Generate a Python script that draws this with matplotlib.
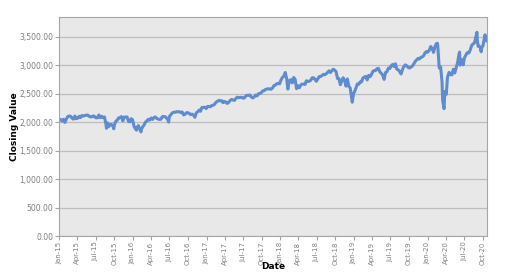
import matplotlib
matplotlib.use("Agg")
import matplotlib.pyplot as plt
import matplotlib.dates as mdates
import numpy as np
import pandas as pd

# Approximate closing values (roughly weekly)
dates_2015 = ["2015-01-02", "2015-01-09", "2015-01-16", "2015-01-23", "2015-01-30", "2015-02-06",
              "2015-02-13", "2015-02-20", "2015-02-27", "2015-03-06", "2015-03-13", "2015-03-20",
              "2015-03-27", "2015-04-02", "2015-04-10", "2015-04-17", "2015-04-24", "2015-05-01",
              "2015-05-08", "2015-05-15", "2015-05-22", "2015-05-29", "2015-06-05", "2015-06-12",
              "2015-06-19", "2015-06-26", "2015-07-02", "2015-07-10", "2015-07-17", "2015-07-24",
              "2015-07-31", "2015-08-07", "2015-08-14", "2015-08-21", "2015-08-24", "2015-08-28",
              "2015-09-04", "2015-09-11", "2015-09-18", "2015-09-25", "2015-09-29", "2015-10-02",
              "2015-10-09", "2015-10-16", "2015-10-23", "2015-10-30", "2015-11-06", "2015-11-13",
              "2015-11-20", "2015-11-27", "2015-12-04", "2015-12-11", "2015-12-18", "2015-12-24",
              "2015-12-31"]
values_2015 = [2058, 2044, 2019, 2051, 1995, 2055, 2097, 2110, 2104, 2071, 2053, 2108,
               2061, 2067, 2102, 2081, 2117, 2108, 2116, 2123, 2126, 2107, 2092, 2094,
               2110, 2101, 2077, 2076, 2127, 2079, 2104, 2078, 2092, 1971, 1893, 1989,
               1921, 1961, 1958, 1932, 1884, 1951, 2015, 2033, 2075, 2079, 2099, 2023,
               2089, 2090, 2092, 2012, 2006, 2061, 2044]

dates_2016 = ["2016-01-08", "2016-01-15", "2016-01-20", "2016-01-22", "2016-01-29", "2016-02-05",
              "2016-02-11", "2016-02-12", "2016-02-19", "2016-02-26", "2016-03-04", "2016-03-11",
              "2016-03-18", "2016-03-24", "2016-04-01", "2016-04-08", "2016-04-15", "2016-04-22",
              "2016-04-29", "2016-05-06", "2016-05-13", "2016-05-20", "2016-05-27", "2016-06-03",
              "2016-06-10", "2016-06-17", "2016-06-24", "2016-06-27", "2016-07-01", "2016-07-08",
              "2016-07-15", "2016-07-22", "2016-07-29", "2016-08-05", "2016-08-12", "2016-08-19",
              "2016-08-26", "2016-09-02", "2016-09-09", "2016-09-16", "2016-09-23", "2016-09-30",
              "2016-10-07", "2016-10-14", "2016-10-21", "2016-10-28", "2016-11-04", "2016-11-11",
              "2016-11-18", "2016-11-25", "2016-12-02", "2016-12-09", "2016-12-16", "2016-12-23",
              "2016-12-30"]
values_2016 = [1922, 1880, 1859, 1907, 1940, 1880, 1829, 1865, 1918, 1948, 2000, 2022,
               2050, 2036, 2073, 2048, 2081, 2092, 2065, 2057, 2047, 2052, 2099, 2099,
               2096, 2071, 2037, 2001, 2103, 2130, 2162, 2175, 2174, 2183, 2184, 2184,
               2169, 2180, 2128, 2139, 2165, 2168, 2153, 2133, 2141, 2126, 2085, 2164,
               2182, 2213, 2192, 2259, 2258, 2263, 2239]

dates_2017 = ["2017-01-06", "2017-01-13", "2017-01-20", "2017-01-27", "2017-02-03", "2017-02-10",
              "2017-02-17", "2017-02-24", "2017-03-03", "2017-03-10", "2017-03-17", "2017-03-24",
              "2017-03-31", "2017-04-07", "2017-04-13", "2017-04-21", "2017-04-28", "2017-05-05",
              "2017-05-12", "2017-05-19", "2017-05-26", "2017-06-02", "2017-06-09", "2017-06-16",
              "2017-06-23", "2017-06-30", "2017-07-07", "2017-07-14", "2017-07-21", "2017-07-28",
              "2017-08-04", "2017-08-11", "2017-08-18", "2017-08-25", "2017-09-01", "2017-09-08",
              "2017-09-15", "2017-09-22", "2017-09-29", "2017-10-06", "2017-10-13", "2017-10-20",
              "2017-10-27", "2017-11-03", "2017-11-10", "2017-11-17", "2017-11-24", "2017-12-01",
              "2017-12-08", "2017-12-15", "2017-12-22", "2017-12-29"]
values_2017 = [2277, 2275, 2271, 2295, 2297, 2316, 2351, 2367, 2383, 2373, 2378, 2344,
               2363, 2355, 2329, 2349, 2384, 2399, 2391, 2382, 2416, 2439, 2432, 2433,
               2438, 2423, 2425, 2459, 2473, 2472, 2477, 2441, 2426, 2443, 2477, 2461,
               2500, 2502, 2519, 2549, 2553, 2575, 2581, 2588, 2582, 2579, 2602, 2642,
               2652, 2675, 2684, 2674]

dates_2018 = ["2018-01-05", "2018-01-12", "2018-01-19", "2018-01-26", "2018-02-02", "2018-02-08",
              "2018-02-09", "2018-02-16", "2018-02-23", "2018-03-02", "2018-03-09", "2018-03-16",
              "2018-03-23", "2018-03-29", "2018-04-06", "2018-04-13", "2018-04-20", "2018-04-27",
              "2018-05-04", "2018-05-11", "2018-05-18", "2018-05-25", "2018-06-01", "2018-06-08",
              "2018-06-15", "2018-06-22", "2018-06-29", "2018-07-06", "2018-07-13", "2018-07-20",
              "2018-07-27", "2018-08-03", "2018-08-10", "2018-08-17", "2018-08-24", "2018-08-31",
              "2018-09-07", "2018-09-14", "2018-09-21", "2018-09-28", "2018-10-05", "2018-10-12",
              "2018-10-19", "2018-10-26", "2018-11-02", "2018-11-09", "2018-11-16", "2018-11-23",
              "2018-11-30", "2018-12-07", "2018-12-14", "2018-12-21", "2018-12-24", "2018-12-31"]
values_2018 = [2743, 2786, 2810, 2873, 2762, 2581, 2620, 2732, 2747, 2691, 2786, 2752,
               2588, 2641, 2604, 2656, 2670, 2670, 2663, 2728, 2713, 2721, 2735, 2779,
               2780, 2755, 2718, 2760, 2801, 2802, 2819, 2840, 2833, 2850, 2875, 2902,
               2872, 2905, 2930, 2914, 2886, 2767, 2768, 2659, 2723, 2781, 2736, 2633,
               2760, 2633, 2600, 2417, 2351, 2507]

dates_2019 = ["2019-01-04", "2019-01-11", "2019-01-18", "2019-01-25", "2019-02-01", "2019-02-08",
              "2019-02-15", "2019-02-22", "2019-03-01", "2019-03-08", "2019-03-15", "2019-03-22",
              "2019-03-29", "2019-04-05", "2019-04-12", "2019-04-18", "2019-04-26", "2019-05-03",
              "2019-05-10", "2019-05-17", "2019-05-24", "2019-05-31", "2019-06-07", "2019-06-14",
              "2019-06-21", "2019-06-28", "2019-07-05", "2019-07-12", "2019-07-19", "2019-07-26",
              "2019-08-02", "2019-08-09", "2019-08-16", "2019-08-23", "2019-08-30", "2019-09-06",
              "2019-09-13", "2019-09-20", "2019-09-27", "2019-10-04", "2019-10-11", "2019-10-18",
              "2019-10-25", "2019-11-01", "2019-11-08", "2019-11-15", "2019-11-22", "2019-11-29",
              "2019-12-06", "2019-12-13", "2019-12-20", "2019-12-27", "2019-12-31"]
values_2019 = [2532, 2596, 2671, 2665, 2707, 2708, 2776, 2793, 2804, 2743, 2822, 2800,
               2834, 2893, 2907, 2905, 2940, 2946, 2881, 2860, 2826, 2752, 2873, 2887,
               2950, 2942, 2990, 3014, 2977, 3026, 2932, 2919, 2889, 2847, 2926, 2979,
               3007, 2992, 2962, 2952, 2970, 2986, 3023, 3067, 3093, 3120, 3110, 3141,
               3146, 3169, 3221, 3240, 3231]

dates_2020 = ["2020-01-03", "2020-01-10", "2020-01-17", "2020-01-24", "2020-01-31", "2020-02-07",
              "2020-02-14", "2020-02-19", "2020-02-21", "2020-02-28", "2020-03-06", "2020-03-13",
              "2020-03-16", "2020-03-20", "2020-03-23", "2020-03-27", "2020-04-03", "2020-04-09",
              "2020-04-17", "2020-04-24", "2020-05-01", "2020-05-08", "2020-05-15", "2020-05-22",
              "2020-05-29", "2020-06-05", "2020-06-08", "2020-06-11", "2020-06-12", "2020-06-19",
              "2020-06-26", "2020-07-02", "2020-07-10", "2020-07-17", "2020-07-24", "2020-07-31",
              "2020-08-07", "2020-08-14", "2020-08-21", "2020-08-28", "2020-09-02", "2020-09-04",
              "2020-09-08", "2020-09-11", "2020-09-18", "2020-09-23", "2020-09-25", "2020-10-02",
              "2020-10-09", "2020-10-12", "2020-10-16", "2020-10-19", "2020-10-21"]
values_2020 = [3235, 3265, 3330, 3295, 3226, 3328, 3380, 3386, 3338, 2954, 2972, 2711,
               2386, 2305, 2237, 2541, 2489, 2790, 2875, 2837, 2831, 2930, 2864, 2955,
               3044, 3194, 3232, 3002, 3041, 3098, 3009, 3130, 3185, 3225, 3216, 3271,
               3351, 3373, 3397, 3508, 3580, 3427, 3332, 3341, 3319, 3237, 3298, 3348,
               3477, 3535, 3484, 3427, 3436]

dates = pd.to_datetime(dates_2015 + dates_2016 + dates_2017 + dates_2018 + dates_2019 + dates_2020)
closing = np.array(values_2015 + values_2016 + values_2017 + values_2018 + values_2019 + values_2020)

fig = plt.figure(figsize=(5.05, 2.77), dpi=100)
ax = fig.add_axes([0.117, 0.148, 0.847, 0.791])
ax.set_facecolor("#E8E8E8")

ax.plot(dates, closing, color="#5F8BD0", linewidth=2.2, solid_joinstyle="round")

ax.set_xlim(pd.Timestamp("2015-01-01"), pd.Timestamp("2020-10-21"))
ax.set_ylim(0, 3850)
ax.set_yticks(np.arange(0, 3501, 500))
ax.yaxis.set_major_formatter(matplotlib.ticker.FuncFormatter(lambda v, p: "{:,.2f}".format(v)))
ax.xaxis.set_major_locator(mdates.MonthLocator(bymonth=[1, 4, 7, 10]))
ax.xaxis.set_major_formatter(mdates.DateFormatter("%b-%y"))

ax.grid(axis="y", color="#BDBDBD", linewidth=0.9)
ax.set_axisbelow(True)
for s in ax.spines.values():
    s.set_color("#A6A6A6")
    s.set_linewidth(0.8)

ax.tick_params(axis="y", labelsize=5.5, labelcolor="#7F7F7F", color="#A6A6A6", length=3, pad=1)
ax.tick_params(axis="x", labelsize=5, labelcolor="#7F7F7F", color="#A6A6A6", length=3,
               labelrotation=90, pad=1)

ax.set_xlabel("Date", fontsize=6.5, fontweight="bold")
ax.xaxis.set_label_coords(0.5, -0.12)
ax.set_ylabel("Closing Value", fontsize=6.5, fontweight="bold")
ax.yaxis.set_label_coords(-0.093, 0.5)

fig.savefig("out.png", dpi=100)
